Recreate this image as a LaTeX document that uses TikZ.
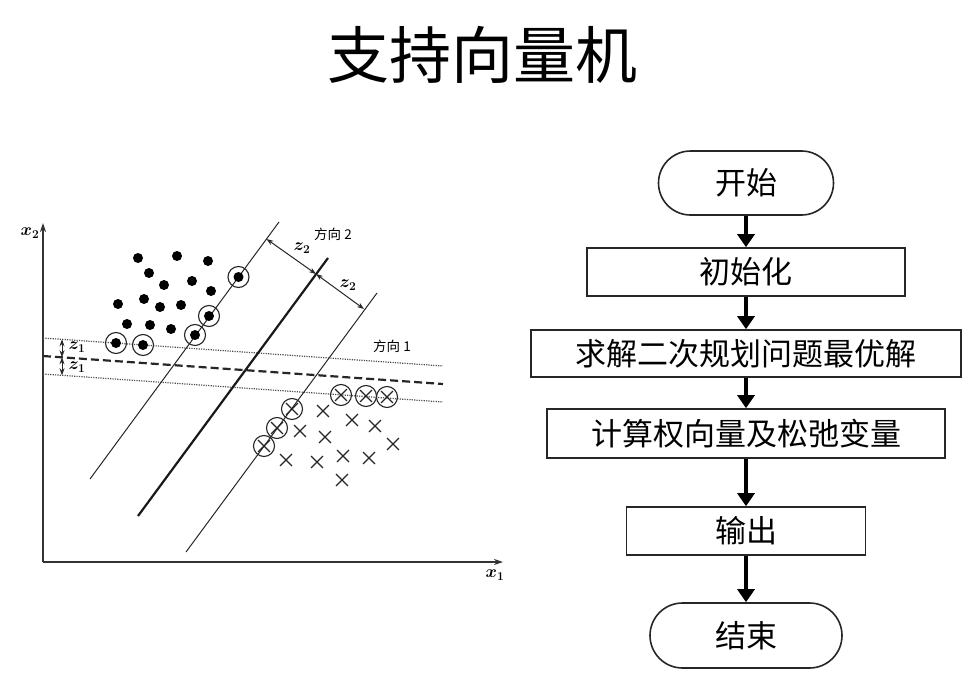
\documentclass[tikz,border=0pt]{standalone}
\usepackage{fontspec}
\newfontfamily\cjk{Noto Sans CJK SC}
\usetikzlibrary{arrows.meta,shapes.misc}
\begin{document}
\begin{tikzpicture}[x=1pt,y=-1pt,
  box/.style={draw=black!85, line width=1.6pt, inner sep=0pt, font=\cjk\fontsize{31}{36}\selectfont, minimum height=48},
  term/.style={box, rounded rectangle},
  flow/.style={line width=3.2pt, -{Triangle[width=17pt,length=13pt]}},
  dotpt/.style={circle, fill=black, inner sep=0pt, minimum size=10},
  ring/.style={circle, draw=black!85, line width=1.1pt, inner sep=0pt, minimum size=21},
  crosspt/.style={cross out, draw=black!85, line width=1.3pt, inner sep=0pt, minimum size=10.5},
  axis/.style={line width=1.4pt, draw=black!80, -{Stealth[length=9pt,width=6pt]}},
  thinln/.style={line width=1pt, draw=black!85},
  thickln/.style={line width=2.2pt, draw=black!90},
  margin/.style={line width=1.2pt, draw=black!70, dash pattern=on 1.2pt off 1.2pt},
  hyper/.style={line width=2.2pt, draw=black!85, dash pattern=on 8pt off 4pt},
  dim/.style={line width=1pt, draw=black!85, {Stealth[length=7pt,width=5pt]}-{Stealth[length=7pt,width=5pt]}},
  lbl/.style={inner sep=0pt, font=\fontsize{17}{19}\selectfont\boldmath},
  cjklbl/.style={inner sep=0pt, font=\cjk\fontsize{13.5}{16}\selectfont}
]
\useasboundingbox (0,0) rectangle (964,685);

% Title
\node[font=\cjk\fontsize{62}{70}\selectfont, inner sep=0pt] (title) at (482,55) {支持向量机};

% Flowchart
\node[term, minimum width=175, minimum height=64] (start) at (746,183) {开始};
\node[box, minimum width=318, minimum height=48] (init) at (746,272) {初始化};
\node[box, minimum width=430, minimum height=47] (solve) at (746,353.5) {求解二次规划问题最优解};
\node[box, minimum width=398, minimum height=49] (calc) at (746,433.5) {计算权向量及松弛变量};
\node[box, minimum width=239, minimum height=48] (out) at (746,531) {输出};
\node[term, minimum width=192, minimum height=65] (end) at (746,635.5) {结束};

\draw[flow] (start.south) -- (init.north);
\draw[flow] (init.south) -- (solve.north);
\draw[flow] (solve.south) -- (calc.north);
\draw[flow] (calc.south) -- (out.north);
\draw[flow] (out.south) -- (end.north);

% Axes
\coordinate (O) at (43,562);
\coordinate (ytip) at (43,223);
\coordinate (xtip) at (503,562);
\draw[axis] (O) -- (ytip);
\draw[axis] (O) -- (xtip);
\node[lbl] (x2) at (30,233) {$x_2$};
\node[lbl] (x1) at (495,575) {$x_1$};

% Direction 1 (horizontal margins)
\coordinate (m1a) at (43,338); \coordinate (m1b) at (443,366);
\coordinate (h1a) at (43,356); \coordinate (h1b) at (443,384);
\coordinate (m2a) at (43,374); \coordinate (m2b) at (443,402);
\draw[margin] (m1a) -- (m1b);
\draw[hyper] (h1a) -- (h1b);
\draw[margin] (m2a) -- (m2b);
\coordinate (za) at (62,339.3);
\coordinate (zb) at (62,357.3);
\coordinate (zc) at (62,375.3);
\draw[dim] (za) -- (zb);
\draw[dim] (zb) -- (zc);
\node[lbl] (z1a) at (77,347) {$z_1$};
\node[lbl] (z1b) at (77,367) {$z_1$};
\node[cjklbl] (dir1) at (392,346) {方向 1};

% Direction 2 (diagonal margins)
\coordinate (A1) at (90,479); \coordinate (A2) at (279,222);
\coordinate (B1) at (138,516); \coordinate (B2) at (328,258);
\coordinate (C1) at (186,552); \coordinate (C2) at (377,293);
\draw[thinln] (A1) -- (A2);
\draw[thickln] (B1) -- (B2);
\draw[thinln] (C1) -- (C2);
\coordinate (pA) at (266.5,239);
\coordinate (pB) at (316,274);
\coordinate (pC) at (364,309);
\draw[dim] (pA) -- (pB);
\draw[dim] (pB) -- (pC);
\node[lbl] (z2a) at (302,248) {$z_2$};
\node[lbl] (z2b) at (348,285) {$z_2$};
\node[cjklbl] (dir2) at (333,234) {方向 2};

% Class 1: dots
\foreach \px/\py [count=\i] in {138/258,177/256,208/261,149/273,164/285,192/281,211/291,118/304,144/299,160/307,181/305,127/324,150/325,171/329}
  \node[dotpt] (d\i) at (\px,\py) {};
\foreach \px/\py [count=\i] in {238.5/277,209/316,195/335,116/343,143/345}
  {\node[dotpt] (sd\i) at (\px,\py) {};
   \node[ring] (rd\i) at (\px,\py) {};}

% Class 2: crosses
\foreach \px/\py [count=\i] in {323/411,352/420,375/426,300/431,325/437,393/444,286/460,317/462,343/456,369/458,342/480}
  \node[crosspt] (c\i) at (\px,\py) {};
\foreach \px/\py [count=\i] in {341/395,366/396,387/397,292/409,277/428,264/446}
  {\node[crosspt] (sc\i) at (\px,\py) {};
   \node[ring] (rc\i) at (\px,\py) {};}
\end{tikzpicture}
\end{document}
